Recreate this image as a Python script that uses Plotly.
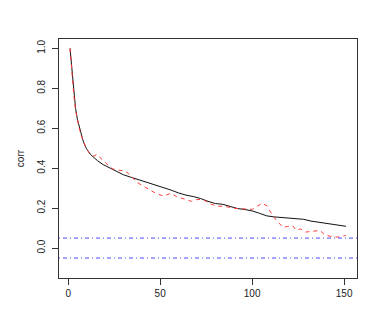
import plotly.graph_objects as go

# lag positions and correlations
lag_fit = [1, 2, 3, 4, 5, 6, 7, 8, 9, 10, 12, 14, 16, 19, 22, 26, 30, 34, 38, 44,
           48, 52, 56, 60, 64, 68, 72, 76, 80, 84, 88, 92, 96, 100, 104, 108,
           112, 118, 124, 128, 132, 136, 140, 146, 151]
corr_fit = [1.0, 0.89, 0.78, 0.70, 0.645, 0.605, 0.57, 0.54, 0.516, 0.497, 0.47,
            0.452, 0.437, 0.418, 0.403, 0.383, 0.367, 0.355, 0.343, 0.328,
            0.314, 0.302, 0.290, 0.276, 0.265, 0.258, 0.248, 0.234, 0.223,
            0.219, 0.208, 0.198, 0.193, 0.186, 0.174, 0.161, 0.156, 0.152,
            0.150, 0.144, 0.135, 0.129, 0.123, 0.115, 0.109]

lag_emp = [1, 2, 3, 4, 5, 6, 7, 8, 9, 10, 12, 14, 15.4, 17, 19.8, 22, 24, 26.7,
           29, 31, 33.8, 37.2, 40.7, 44.3, 48, 52, 55.6, 59, 62, 64.3, 67, 69.6,
           73, 77.5, 81, 85, 90.6, 95.8, 100.2, 102.8, 105.4, 108, 110.6, 113.3,
           116.8, 119.4, 122, 123.8, 126.4, 129, 132.5, 136.9, 139.5, 143,
           146.5, 150.9]
corr_emp = [1.0, 0.87, 0.77, 0.69, 0.64, 0.60, 0.565, 0.54, 0.515, 0.495, 0.47,
            0.46, 0.469, 0.455, 0.43, 0.41, 0.397, 0.391, 0.39, 0.386, 0.365,
            0.33, 0.311, 0.29, 0.272, 0.26, 0.274, 0.258, 0.25, 0.242, 0.234,
            0.242, 0.245, 0.22, 0.21, 0.209, 0.199, 0.196, 0.194, 0.21, 0.224,
            0.212, 0.171, 0.137, 0.104, 0.108, 0.112, 0.09, 0.096, 0.08, 0.083,
            0.088, 0.066, 0.058, 0.055, 0.063]

bounds = [0.05, -0.05]

fig = go.Figure()
fig.add_trace(go.Scatter(x=lag_fit, y=corr_fit, mode="lines",
                         line=dict(color="#111", width=1)))
fig.add_trace(go.Scatter(x=lag_emp, y=corr_emp, mode="lines",
                         line=dict(color="#ff3b3b", width=1, dash="4px,4px")))
for b in bounds:
    fig.add_shape(type="line", xref="paper", x0=0, x1=1, yref="y", y0=b, y1=b,
                  line=dict(color="#4a4aff", width=1, dash="1px,3px,4px,3px"))

axis_style = dict(showgrid=False, zeroline=False, showline=True, mirror=True,
                  linecolor="#333", linewidth=1, ticks="outside", ticklen=6,
                  tickcolor="#333", tickfont=dict(size=10, color="#222"))

fig.update_xaxes(range=[-5, 157], tickvals=[0, 50, 100, 150], **axis_style)
fig.update_yaxes(range=[-0.15, 1.047], tickvals=[0.0, 0.2, 0.4, 0.6, 0.8, 1.0],
                 tickformat=".1f", tickangle=-90, ticklabelstandoff=3,
                 title=dict(text="corr", font=dict(size=10, color="#222"), standoff=9),
                 **axis_style)

# the page body adds an 8px margin, so the figure is shrunk to fit the window
fig.update_layout(width=366, height=311, showlegend=False,
                  margin=dict(l=39, r=17, t=31, b=41),
                  plot_bgcolor="white", paper_bgcolor="white",
                  font=dict(family="Liberation Sans, Arial, sans-serif"))

fig.write_html("out.html")
